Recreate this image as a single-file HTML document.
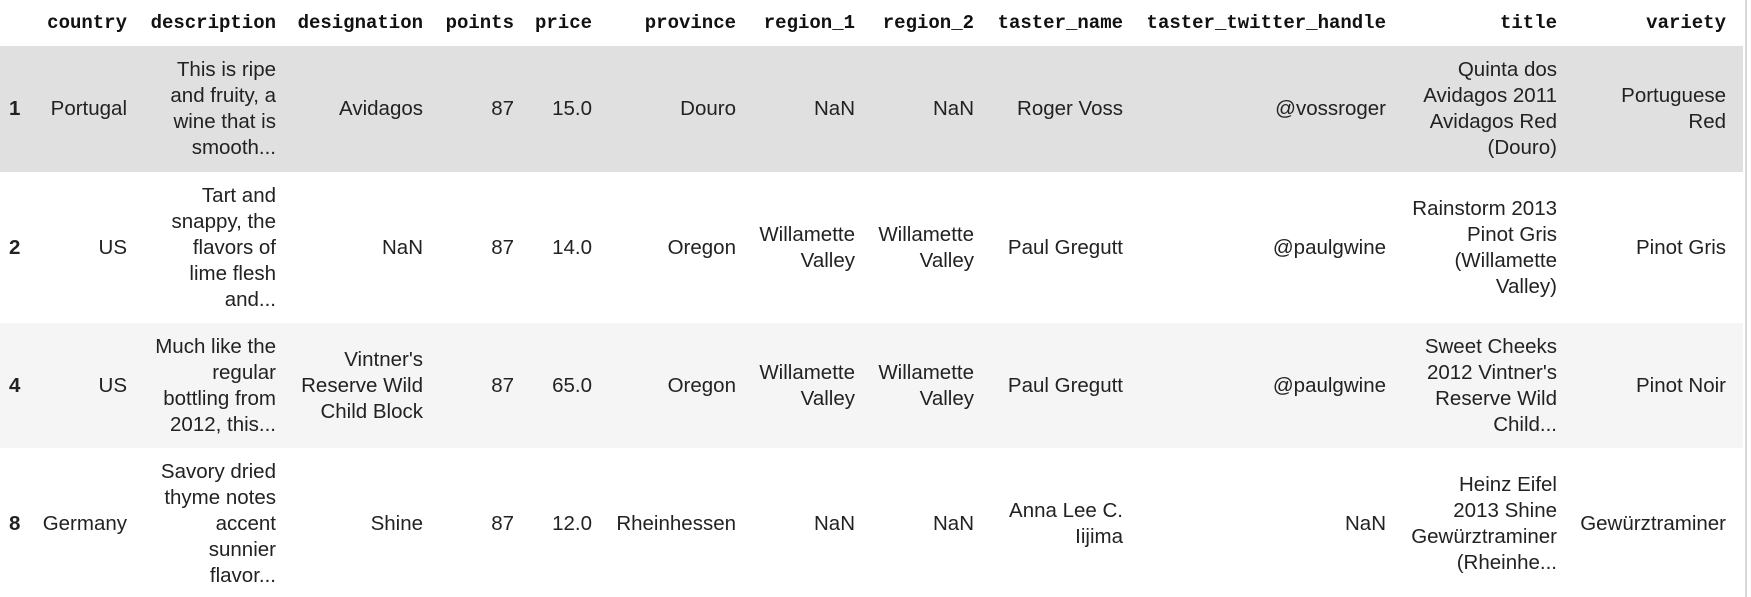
<!DOCTYPE html>
<html><head><meta charset="utf-8">
<style>
html,body{margin:0;padding:0;background:#fff;width:1751px;height:597px;overflow:hidden;}
#wrap{position:relative;width:1751px;height:597px;}
.row{position:absolute;left:0;width:1743px;}
.cell{position:absolute;display:flex;align-items:center;justify-content:flex-end;text-align:right;font-family:"Liberation Sans",Arial,sans-serif;font-size:20.5px;line-height:26px;color:#222;white-space:nowrap;}
.hd{font-family:"Liberation Mono",monospace;font-weight:bold;font-size:19px;color:#111;}
.idx{font-weight:bold;justify-content:flex-start;text-align:left;}
#sb{position:absolute;left:1745px;top:0;width:2px;height:597px;background:#d8d8d8;}
</style></head>
<body>
<div id="wrap"><div id="sb"></div></div>
<script>
const columns=["country","description","designation","points","price","province","region_1","region_2","taster_name","taster_twitter_handle","title","variety"];
const rights=[127,276,423,514,592,736,855,974,1123,1386,1557,1726];
const indexLabels=["1","2","4","8"];
const rowTops=[46,172,323,448];
const rowHeights=[126,151,125,152];
const rowBgs=["#e0e0e0","#ffffff","#f5f5f5","#ffffff"];
const rows=[
["Portugal","This is ripe<br>and fruity, a<br>wine that is<br>smooth...","Avidagos","87","15.0","Douro","NaN","NaN","Roger Voss","@vossroger","Quinta dos<br>Avidagos 2011<br>Avidagos Red<br>(Douro)","Portuguese<br>Red"],
["US","Tart and<br>snappy, the<br>flavors of<br>lime flesh<br>and...","NaN","87","14.0","Oregon","Willamette<br>Valley","Willamette<br>Valley","Paul Gregutt","@paulgwine","Rainstorm 2013<br>Pinot Gris<br>(Willamette<br>Valley)","Pinot Gris"],
["US","Much like the<br>regular<br>bottling from<br>2012, this...","Vintner's<br>Reserve Wild<br>Child Block","87","65.0","Oregon","Willamette<br>Valley","Willamette<br>Valley","Paul Gregutt","@paulgwine","Sweet Cheeks<br>2012 Vintner's<br>Reserve Wild<br>Child...","Pinot Noir"],
["Germany","Savory dried<br>thyme notes<br>accent<br>sunnier<br>flavor...","Shine","87","12.0","Rheinhessen","NaN","NaN","Anna Lee C.<br>Iijima","NaN","Heinz Eifel<br>2013 Shine<br>Gewürztraminer<br>(Rheinhe...","Gewürztraminer"]
];
const wrap=document.getElementById('wrap');
function mk(top,h,right,html,cls){
  const d=document.createElement('div');
  d.className='cell '+cls;
  d.style.top=top+'px';d.style.height=h+'px';d.style.right=(1751-right)+'px';
  d.innerHTML=html;
  wrap.appendChild(d);
  return d;
}
columns.forEach((c,i)=>{
  const d=mk(0,46,rights[i],c,'hd');
  
  
});
rows.forEach((r,ri)=>{
  const bg=document.createElement('div');
  bg.className='row';
  bg.style.top=rowTops[ri]+'px';bg.style.height=rowHeights[ri]+'px';bg.style.background=rowBgs[ri];
  
  
  wrap.appendChild(bg);
  const ix=mk(rowTops[ri],rowHeights[ri],40,indexLabels[ri],'idx');
  ix.style.left='9px';ix.style.right='auto';
  
  
  r.forEach((v,ci)=>{
    const d=mk(rowTops[ri],rowHeights[ri],rights[ci],v,'');
    
    
  });
});
</script>
</body></html>
